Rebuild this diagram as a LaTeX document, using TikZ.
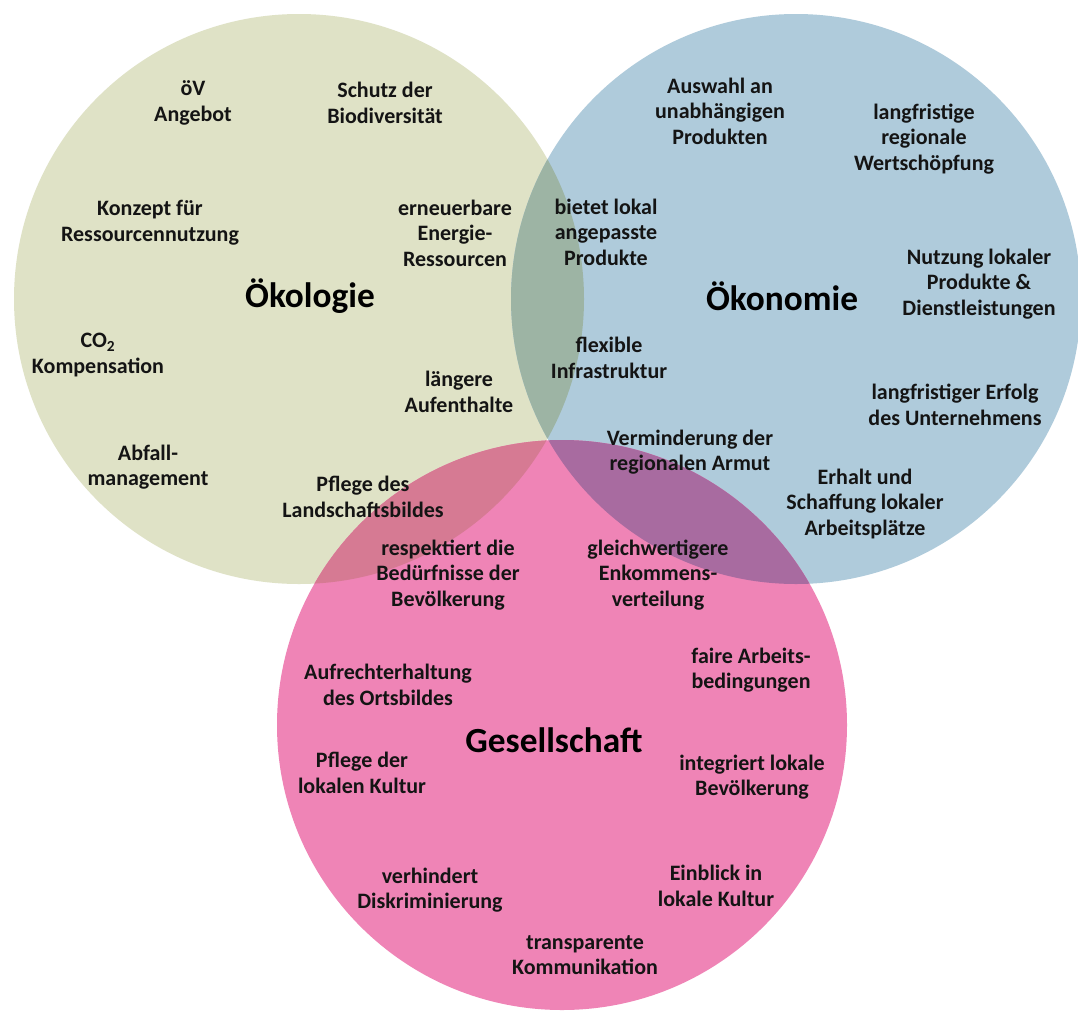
\documentclass[tikz,border=0pt]{standalone}
\usepackage{fontspec}
\setmainfont{Carlito}
\usetikzlibrary{positioning}

\definecolor{ecocol}{HTML}{DFE2C6}
\definecolor{econcol}{HTML}{AFCBDB}
\definecolor{soccol}{HTML}{EF84B6}
\definecolor{ecoecon}{HTML}{9DB4A4}
\definecolor{ecosoc}{HTML}{D67A93}
\definecolor{econsoc}{HTML}{A86BA0}
\definecolor{inkcol}{HTML}{141414}

\tikzset{
  item/.style={align=center, inner sep=0pt, text=inkcol,
    font=\bfseries\fontsize{16.5}{19.2}\selectfont},
  heading/.style={align=center, inner sep=0pt, text=black,
    font=\bfseries\fontsize{26.5}{30}\selectfont},
}

\begin{document}
\begin{tikzpicture}[x=0.75pt,y=-0.75pt]
  \fill[white] (0,0) rectangle (1078,1014);
  \useasboundingbox (0,0) rectangle (1078,1014);

  % circle centres (radius 285 units = 213.75pt)
  \coordinate (cG) at (299,299);
  \coordinate (cB) at (796,299);
  \coordinate (cP) at (562,725);
  \def\rad{213.75pt}

  % the three circles
  \fill[ecocol]  (cG) circle (\rad);
  \fill[econcol] (cB) circle (\rad);
  \fill[soccol]  (cP) circle (\rad);

  % pairwise overlaps
  \begin{scope}
    \clip (cG) circle (\rad);
    \fill[ecoecon] (cB) circle (\rad);
  \end{scope}
  \begin{scope}
    \clip (cG) circle (\rad);
    \fill[ecosoc] (cP) circle (\rad);
  \end{scope}
  \begin{scope}
    \clip (cB) circle (\rad);
    \fill[econsoc] (cP) circle (\rad);
  \end{scope}

  % headings
  \node[heading] (hG) at (310,296) {Ökologie};
  \node[heading] (hB) at (782,296) {Ökonomie};
  \node[heading] (hP) at (554,740) {Gesellschaft};

  % Ökologie
  \node[item] (g1) at (193,103) {öV\\Angebot};
  \node[item] (g2) at (385,103) {Schutz der\\Biodiversität};
  \node[item] (g3) at (150,223) {Konzept für\\Ressourcennutzung};
  \node[item] (g4) at (455,233) {erneuerbare\\Energie-\\Ressourcen};
  \node[item] (g5) at (98,355) {CO\textsubscript{2}\\Kompensation};
  \node[item] (g6) at (459,392) {längere\\Aufenthalte};
  \node[item] (g7) at (148,467) {Abfall-\\management};
  \node[item] (g8) at (363,497) {Pflege des\\Landschaftsbildes};

  % Ökonomie
  \node[item] (b1) at (720,111) {Auswahl an\\unabhängigen\\Produkten};
  \node[item] (b2) at (924,139) {langfristige\\regionale\\Wertschöpfung};
  \node[item] (b3) at (606,232) {bietet lokal\\angepasste\\Produkte};
  \node[item] (b4) at (979,284) {Nutzung lokaler\\Produkte \&\\Dienstleistungen};
  \node[item] (b5) at (609,358) {flexible\\Infrastruktur};
  \node[item] (b6) at (955,405) {langfristiger Erfolg\\des Unternehmens};
  \node[item] (b7) at (690,452) {Verminderung der\\regionalen Armut};
  \node[item] (b8) at (865,504) {Erhalt und\\Schaffung lokaler\\Arbeitsplätze};

  % Gesellschaft
  \node[item] (p1) at (448,575) {respektiert die\\Bedürfnisse der\\Bevölkerung};
  \node[item] (p2) at (658,575) {gleichwertigere\\Enkommens-\\verteilung};
  \node[item] (p3) at (388,685) {Aufrechterhaltung\\des Ortsbildes};
  \node[item] (p4) at (751,670) {faire Arbeits-\\bedingungen};
  \node[item] (p5) at (362,773) {Pflege der\\lokalen Kultur};
  \node[item] (p6) at (752,777) {integriert lokale\\Bevölkerung};
  \node[item] (p7) at (430,890) {verhindert\\Diskriminierung};
  \node[item] (p8) at (716,886) {Einblick in\\lokale Kultur};
  \node[item] (p9) at (585,955) {transparente\\Kommunikation};
\end{tikzpicture}
\end{document}
